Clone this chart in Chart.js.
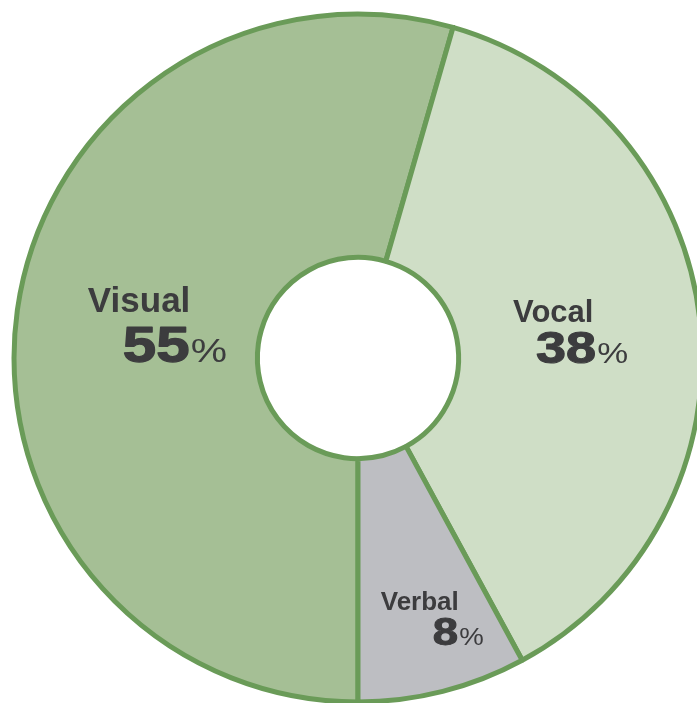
<!DOCTYPE html>
<html>
<head>
<meta charset="utf-8">
<script src="https://cdn.jsdelivr.net/npm/chart.js@4"></script>
<style>
  html, body { margin: 0; padding: 0; background: #ffffff; overflow: hidden; }
  #wrap { width: 697px; height: 703px; overflow: hidden; }
  canvas { display: block; }
</style>
</head>
<body>
<div id="wrap"><canvas id="myChart" width="716" height="716"></canvas></div>
<script>
const categories = ["Visual", "Vocal", "Verbal"];
const values = [55, 38, 8];
const fillColors = ["#a5bf95", "#cfdec6", "#bdbec2"];

// label placement relative to each slice's centroid
const labelStyles = [
  { nameSize: 35, numSize: 50, pctSize: 34, nameDx: -50, nameDy: -15, numDx: -15, numDy: 35 },
  { nameSize: 31, numSize: 45, pctSize: 29, nameDx: -66, nameDy: -12, numDx: -43, numDy: 29 },
  { nameSize: 26, numSize: 38, pctSize: 23, nameDx: -32, nameDy: 37, numDx: 20, numDy: 72 },
];

const textColor = "#3c3c3e";
const fontFamily = "'Liberation Sans', Arial, Helvetica, sans-serif";
const numStretch = 1.2; // the figures are set in a wide face

const sliceLabels = {
  id: "sliceLabels",
  afterDatasetsDraw(chart) {
    const ctx = chart.ctx;
    const meta = chart.getDatasetMeta(0);
    meta.data.forEach((arc, i) => {
      const p = arc.tooltipPosition();
      const s = labelStyles[i];
      ctx.save();
      ctx.fillStyle = textColor;
      ctx.strokeStyle = textColor;
      ctx.lineJoin = "round";
      ctx.textAlign = "left";
      ctx.textBaseline = "alphabetic";

      ctx.font = "bold " + s.nameSize + "px " + fontFamily;
      ctx.fillText(categories[i], p.x + s.nameDx, p.y + s.nameDy);

      ctx.translate(p.x + s.numDx, p.y + s.numDy);
      ctx.scale(numStretch, 1);
      ctx.font = "bold " + s.numSize + "px " + fontFamily;
      const num = String(values[i]);
      ctx.fillText(num, 0, 0);
      ctx.lineWidth = s.numSize / 40;
      ctx.strokeText(num, 0, 0);
      const w = ctx.measureText(num).width;

      ctx.font = s.pctSize + "px " + fontFamily;
      ctx.fillText("%", w + 1, 0);
      ctx.restore();
    });
  },
};

const ctx = document.getElementById("myChart");

new Chart(ctx, {
  type: "doughnut",
  data: {
    labels: categories,
    datasets: [
      {
        data: values,
        backgroundColor: fillColors,
        borderColor: "#6a9b58",
        borderWidth: 5,
      },
    ],
  },
  options: {
    responsive: false,
    animation: false,
    rotation: 180,
    radius: 344,
    cutout: 104,
    layout: { padding: 0 },
    plugins: {
      legend: { display: false },
      tooltip: { enabled: false },
    },
  },
  plugins: [sliceLabels],
});
</script>
</body>
</html>
